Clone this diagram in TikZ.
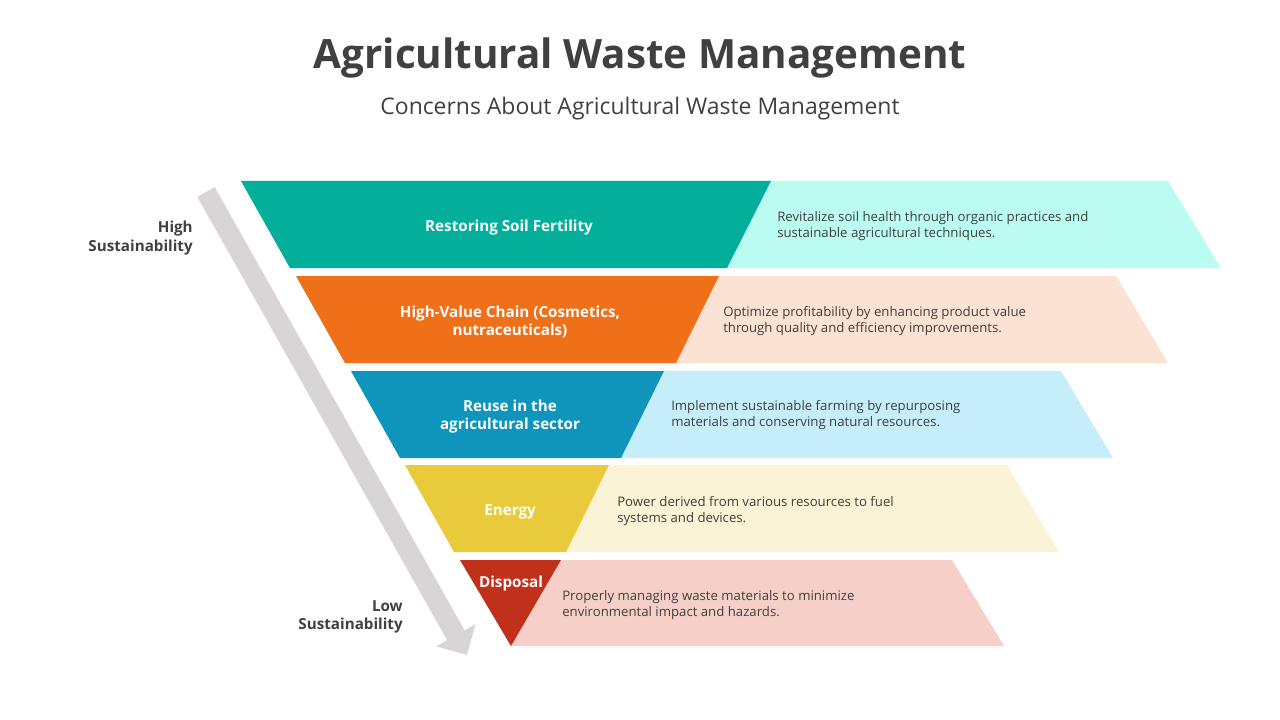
\documentclass[tikz,border=0pt]{standalone}
\usepackage{fontspec}
\setmainfont{Open Sans}
\usetikzlibrary{arrows.meta, positioning}

\definecolor{txtgray}{HTML}{404040}
\definecolor{arrgray}{HTML}{D9D5D7}
\definecolor{soilD}{HTML}{03AF9B}
\definecolor{soilL}{HTML}{BAFCF1}
\definecolor{chainD}{HTML}{F07019}
\definecolor{chainL}{HTML}{FCE2D2}
\definecolor{reuseD}{HTML}{0F94BC}
\definecolor{reuseL}{HTML}{C5EEFA}
\definecolor{energyD}{HTML}{E9CA3A}
\definecolor{energyL}{HTML}{FAF3D6}
\definecolor{dispD}{HTML}{C0301B}
\definecolor{dispL}{HTML}{F6D0C8}

\tikzset{
  level/.style={text=white, font=\bfseries\fontsize{11.4}{13.5}\selectfont, align=center, inner sep=0pt},
  desc/.style={anchor=west, text=txtgray, font=\fontsize{9.9}{12}\selectfont, align=left, inner sep=0pt},
  side/.style={anchor=east, text=txtgray, font=\bfseries\fontsize{11.4}{13.8}\selectfont, align=right, inner sep=0pt}
}

\begin{document}
\begin{tikzpicture}[x=0.75pt,y=-0.75pt]
  \useasboundingbox (0,0) rectangle (1280,720);

  % title
  \node[text=txtgray, font=\bfseries\fontsize{30.3}{36}\selectfont] (title) at (640,58) {Agricultural Waste Management};
  \node[text=txtgray, font=\fontsize{17.2}{20}\selectfont] (subtitle) at (640,109) {Concerns About Agricultural Waste Management};

  % bands: top y / dark TL / dark TR / dark BL / dark BR / light TR / light BR / colours
  \foreach \yt/\tl/\tr/\bl/\br/\ltr/\lbr/\dk/\lt in {
      181/241/771/290/727/1168/1221/soilD/soilL,
      276/296/719/345/676/1116/1168/chainD/chainL,
      371/351/664/400/621/1061/1113/reuseD/reuseL,
      465/405/609/454/566/1007/1059/energyD/energyL}
  {
    \fill[\lt] (\tl,\yt) -- (\ltr,\yt) -- (\lbr,\yt+87) -- (\bl,\yt+87) -- cycle;
    \fill[\dk] (\tl,\yt) -- (\tr,\yt) -- (\br,\yt+87) -- (\bl,\yt+87) -- cycle;
  }
  \fill[dispL] (460,560) -- (952,560) -- (1004,646) -- (511,646) -- cycle;
  \fill[dispD] (460,560) -- (561,560) -- (511,646) -- cycle;

  % sustainability arrow
  \coordinate (arrS) at (206,192);
  \coordinate (arrE) at (467,655);
  \draw[arrgray, line width=15pt, -{Triangle[length=17pt,width=33pt]}] (arrS) -- (arrE);

  \node[side] (high) at (193,238) {High\\Sustainability};
  \node[side] (low) at (403,617) {Low\\Sustainability};

  % level labels
  \node[level] (soil) at (509,228) {Restoring Soil Fertility};
  \node[level] (chain) at (510,322) {High-Value Chain (Cosmetics,\\nutraceuticals)};
  \node[level] (reuse) at (510,417) {Reuse in the\\agricultural sector};
  \node[level] (energy) at (510,512) {Energy};
  \node[level] (disp) at (511,584) {Disposal};

  % descriptions
  \node[desc] (soilTxt) at (777,226) {Revitalize soil health through organic practices and\\sustainable agricultural techniques.};
  \node[desc] (chainTxt) at (723,321) {Optimize profitability by enhancing product value\\through quality and efficiency improvements.};
  \node[desc] (reuseTxt) at (671,415) {Implement sustainable farming by repurposing\\materials and conserving natural resources.};
  \node[desc] (energyTxt) at (617,511) {Power derived from various resources to fuel\\systems and devices.};
  \node[desc] (dispTxt) at (562,605) {Properly managing waste materials to minimize\\environmental impact and hazards.};
\end{tikzpicture}
\end{document}
